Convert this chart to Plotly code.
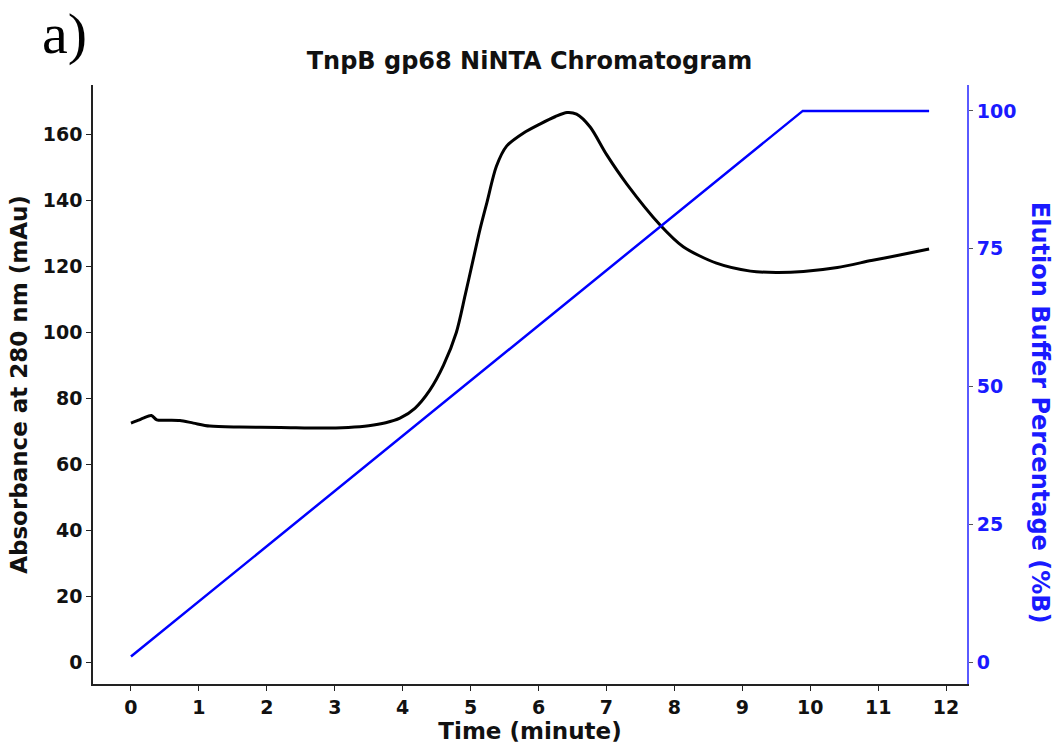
import plotly.graph_objects as go

# Absorbance at 280 nm (black trace)
time_abs = [0, 0.1, 0.18, 0.3, 0.38, 0.55, 0.72, 0.92, 1.16, 1.6, 2.2, 2.8, 3.2, 3.5, 3.75,
            3.96, 4.18, 4.4, 4.6, 4.79, 4.92, 5.04, 5.14, 5.24, 5.38, 5.53, 5.78,
            6.02, 6.25, 6.42, 6.56, 6.76, 7.0, 7.3, 7.79, 8.13, 8.62, 9.12, 9.5,
            9.9, 10.4, 10.9, 11.3, 11.75]
absorbance = [72.5, 73.3, 74.0, 74.8, 73.5, 73.4, 73.3, 72.5, 71.6, 71.3, 71.2, 71.0, 71.2, 71.7, 72.6,
              74.0, 77.0, 82.5, 90.0, 100.0, 111.3, 122.3, 131.4, 139.4, 150.4, 156.5, 160.5,
              163.2, 165.5, 166.7, 166.2, 162.3, 154.0, 145.0, 132.6, 126.0, 121.0, 118.6, 118.2,
              118.5, 119.7, 121.8, 123.4, 125.3]

# Elution buffer gradient (blue trace)
time_buf = [0, 9.89, 11.75]
buffer_pct = [1, 100, 100]

x_ticks = list(range(0, 13))
y_ticks = list(range(0, 161, 20))
y2_ticks = [0, 25, 50, 75, 100]

FONT = "DejaVu Sans"
BLUE = "#1a1aff"

fig = go.Figure()
fig.add_trace(go.Scatter(x=time_abs, y=absorbance, mode="lines",
                         line=dict(color="black", width=3, shape="spline", smoothing=0.8),
                         yaxis="y", showlegend=False, hoverinfo="skip"))
fig.add_trace(go.Scatter(x=time_buf, y=buffer_pct, mode="lines",
                         line=dict(color="#0000ff", width=2.5),
                         yaxis="y2", showlegend=False, hoverinfo="skip"))

fig.update_layout(
    width=1059, height=751,
    margin=dict(l=93, r=92, t=85, b=63),
    paper_bgcolor="white", plot_bgcolor="white",
    font=dict(family=FONT, color="black"),
    title=dict(text="<b>TnpB gp68 NiNTA Chromatogram</b>", x=0.5, xanchor="center",
               y=1 - 61 / 751, yanchor="middle",
               font=dict(family=FONT, size=24, color="#111111")),
    xaxis=dict(range=[-0.559, 12.308], tickvals=x_ticks, ticktext=[f"<b>{v}</b>" for v in x_ticks],
               showgrid=False, zeroline=False, showline=True, linecolor="#222222", linewidth=1.5,
               ticks="outside", ticklen=5, tickcolor="#222222", tickwidth=1.2,
               tickfont=dict(family=FONT, size=19, color="#111111"),
               title=dict(text="<b>Time (minute)</b>", standoff=5,
                          font=dict(family=FONT, size=23, color="#111111"))),
    yaxis=dict(range=[-6.63, 175.05], tickvals=y_ticks, ticktext=[f"<b>{v}</b>" for v in y_ticks],
               showgrid=False, zeroline=False, showline=True, linecolor="#222222", linewidth=1.5,
               ticks="outside", ticklen=5, tickcolor="#222222", tickwidth=1.2,
               tickfont=dict(family=FONT, size=19, color="#111111"),
               title=dict(text="<b>Absorbance at 280 nm (mAu)</b>", standoff=9,
                          font=dict(family=FONT, size=23, color="#111111"))),
    yaxis2=dict(range=[-3.98, 104.7], tickvals=y2_ticks, ticktext=[f"<b>{v}</b>" for v in y2_ticks],
                overlaying="y", side="right", anchor="x",
                showgrid=False, zeroline=False, showline=True, linecolor="#5a5aff", linewidth=1.8,
                ticks="outside", ticklen=4, tickcolor="#555555", tickwidth=1.2,
                tickfont=dict(family=FONT, size=19, color=BLUE)),
    annotations=[
        dict(text="<b>Elution Buffer Percentage (%B)</b>", textangle=90,
             xref="paper", yref="paper", x=(1040 - 93) / (1059 - 93 - 92),
             y=(688 - 415) / (688 - 85), xanchor="center", yanchor="middle",
             showarrow=False, font=dict(family=FONT, size=24, color=BLUE)),
        dict(text="a)", xref="paper", yref="paper",
             x=(40 - 93) / (1059 - 93 - 92), y=(688 - 33) / (688 - 85),
             xanchor="left", yanchor="middle", showarrow=False,
             font=dict(family="Liberation Serif", size=58, color="black")),
    ],
)

fig.write_html("out.html", config={"displayModeBar": False},
               post_script="document.body.style.margin='0px';document.body.style.overflow='hidden';")
